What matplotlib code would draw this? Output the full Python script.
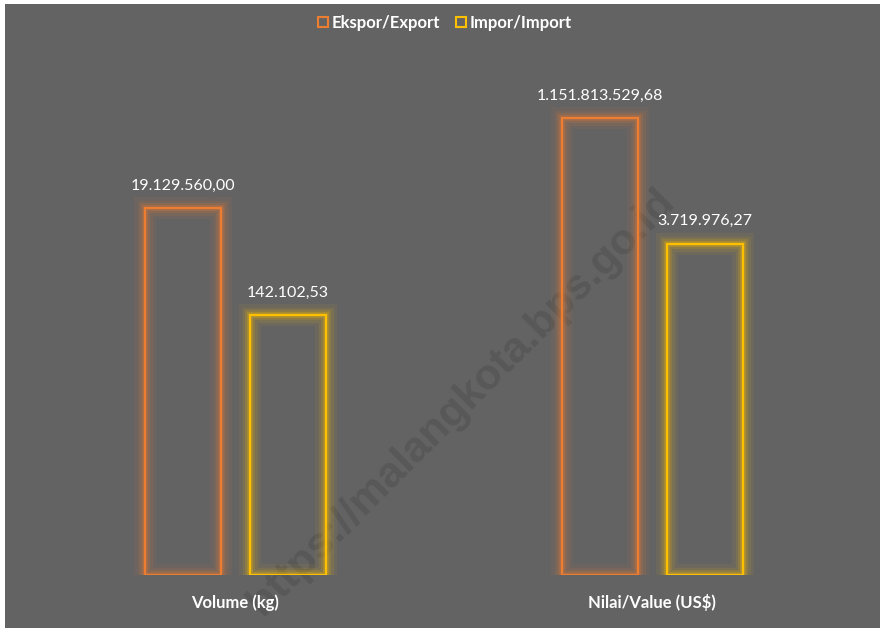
import matplotlib.pyplot as plt
from matplotlib.patches import Rectangle
import numpy as np

# Data
categories = ["Volume (kg)", "Nilai/Value (US$)"]
series_names = ["Ekspor/Export", "Impor/Import"]
ekspor = [19129560.00, 1151813529.68]
impor = [142102.53, 3719976.27]
ekspor_labels = ["19.129.560,00", "1.151.813.529,68"]
impor_labels = ["142.102,53", "3.719.976,27"]

# Style
BG = "#636363"
ORANGE = "#ED7D31"
YELLOW = "#FFC000"
FONT = ["Liberation Sans Narrow", "Lato", "DejaVu Sans"]


def glow_bars(ax, x, values, width, color):
    """Hollow bars with a soft glow around the outline"""
    for lw, a in [(16, 0.06), (11, 0.10), (7, 0.16), (4, 0.25)]:
        ax.bar(x, np.array(values) - 1, width, bottom=1, facecolor="none",
               edgecolor=color, linewidth=lw, alpha=a, zorder=2)
    return ax.bar(x, np.array(values) - 1, width, bottom=1, facecolor="none",
                  edgecolor=color, linewidth=1.6, zorder=3)


def main():
    fig = plt.figure(figsize=(8.8, 6.28), dpi=100)
    fig.patch.set_facecolor("white")

    # gray chart area (small white strip left and top)
    fig.patches.append(Rectangle((5 / 880, 0), 875 / 880, 624 / 628,
                                 transform=fig.transFigure,
                                 facecolor=BG, edgecolor="none", zorder=-1))

    # watermark
    fig.text(462 / 880, 1 - 402 / 628, "https://malangkota.bps.go.id",
             rotation=45, ha="center", va="center", fontsize=31,
             fontweight="bold", color="#585858", family=["Liberation Sans"],
             zorder=-0.5)

    ax = fig.add_axes([5 / 880, 53 / 628, 875 / 880, 571 / 628])
    ax.set_facecolor("none")
    ax.set_yscale("log")
    ax.set_ylim(1, 10 ** 11.32)
    ax.set_xlim((5 - 235.5) / 416.5, (880 - 235.5) / 416.5)

    x = np.arange(len(categories))
    width = 76 / 416.5
    off = 52.5 / 416.5

    glow_bars(ax, x - off, ekspor, width, ORANGE)
    glow_bars(ax, x + off, impor, width, YELLOW)

    # value labels
    for xi, v, lab in zip(x - off, ekspor, ekspor_labels):
        ax.annotate(lab, (xi, v), xytext=(0, 16), textcoords="offset points",
                    ha="center", va="center", color="white", fontsize=11.5,
                    family=FONT)
    for xi, v, lab in zip(x + off, impor, impor_labels):
        ax.annotate(lab, (xi, v), xytext=(0, 16), textcoords="offset points",
                    ha="center", va="center", color="white", fontsize=11.5,
                    family=FONT)

    # category labels
    ax.set_xticks(x)
    ax.set_xticklabels(categories, color="white", fontsize=12,
                       fontweight="bold", family=FONT)
    ax.tick_params(axis="x", length=0, pad=14)
    ax.set_yticks([])
    ax.minorticks_off()
    ax.tick_params(axis="y", which="both", length=0, labelleft=False)
    for s in ax.spines.values():
        s.set_visible(False)

    # legend
    handles = [Rectangle((0, 0), 1, 1, facecolor="none", edgecolor=ORANGE,
                         linewidth=1.5),
               Rectangle((0, 0), 1, 1, facecolor="none", edgecolor=YELLOW,
                         linewidth=1.5)]
    leg = fig.legend(handles, series_names, loc="center",
                     bbox_to_anchor=(445 / 880, 1 - 23 / 628), ncol=2,
                     frameon=False, handlelength=0.6, handleheight=0.6,
                     handletextpad=0.2, columnspacing=1.0,
                     prop={"family": FONT, "weight": "bold", "size": 12})
    for t in leg.get_texts():
        t.set_color("white")

    plt.savefig("out.png", dpi=100, facecolor=fig.get_facecolor())

    return None


if __name__ == "__main__":
    main()
